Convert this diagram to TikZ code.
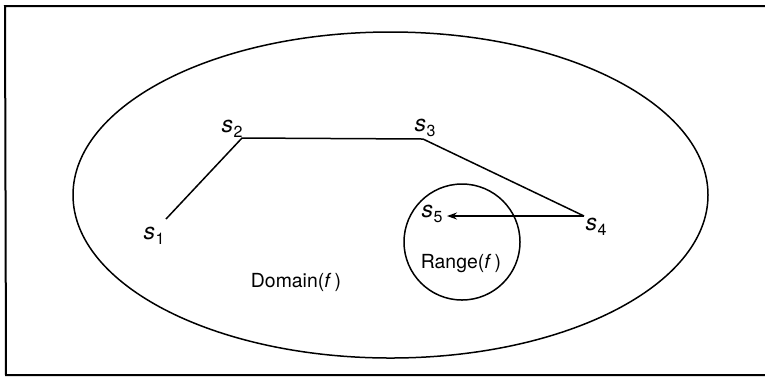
\documentclass[tikz,border=0pt]{standalone}
\usepackage{fontspec}
\setmainfont{TeX Gyre Heros}
\usetikzlibrary{arrows.meta,shapes.geometric}
\newcommand{\sv}[1]{\textit{s}\kern0.3pt\raisebox{-0.45ex}{\fontsize{8}{9}\selectfont #1}}
\begin{document}
\begin{tikzpicture}[x=0.5pt,y=-0.5pt,
  lbl/.style={inner sep=0pt,font=\fontsize{9.7}{11}\selectfont},
  slbl/.style={inner sep=0pt,font=\fontsize{11.5}{13}\selectfont},
  curve/.style={line width=0.75pt},
  frame/.style={line width=1pt}]
\useasboundingbox (0,0) rectangle (765,377);
% frame
\coordinate (fTR) at (766,6);
\coordinate (fTL) at (5,6);
\coordinate (fBL) at (6,375);
\coordinate (fBR) at (766,375);
\draw[frame] (fTR) -- (fTL) -- (fBL) -- (fBR);
% domain ellipse and range circle
\node[draw,curve,ellipse,minimum width=317.5pt,minimum height=163pt,inner sep=0pt] (dom) at (390.5,195) {};
\node[draw,curve,circle,minimum size=58pt,inner sep=0pt] (rng) at (462,242) {};
\node[lbl] (domlbl) at (296,282) {Domain(\textit{f}\,)};
\node[lbl] (rnglbl) at (461,264) {Range(\textit{f}\,)};
% path
\coordinate (s1) at (166,219);
\coordinate (s2) at (242,138);
\coordinate (s3) at (423,139);
\coordinate (s4) at (584,216);
\coordinate (s5) at (447,216);
\draw[curve] (s1) -- (s2) -- (s3) -- (s4);
\draw[curve,-{Stealth[length=5pt,width=3.5pt]}] (s4) -- (s5);
\node[slbl] (l1) at (154,236) {\sv{1}};
\node[slbl] (l2) at (232,129) {\sv{2}};
\node[slbl] (l3) at (425,128) {\sv{3}};
\node[slbl] (l4) at (596,227) {\sv{4}};
\node[slbl] (l5) at (432,214) {\sv{5}};
\end{tikzpicture}
\end{document}
